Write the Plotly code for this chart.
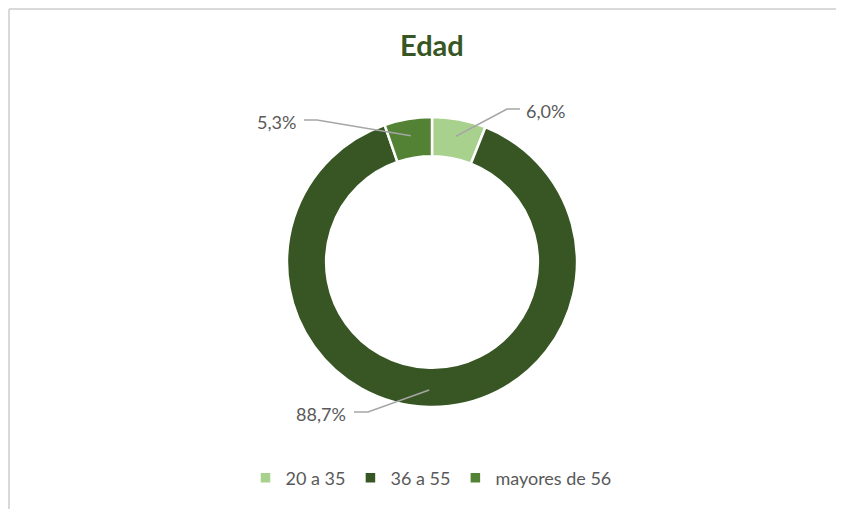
import math

import plotly.graph_objects as go

W, H = 844, 509
OFF = 8  # page body margin shifts the figure by this many pixels

# data
categories = ["20 a 35", "36 a 55", "mayores de 56"]
values = [6.0, 88.7, 5.3]
value_labels = ["6,0%", "88,7%", "5,3%"]
colors = ["#A9D18E", "#375623", "#548235"]

# donut geometry (screen pixels)
CX, CY, R = 432, 262, 145
HOLE = 0.73

# label placement per slice: (bend x, bend y, line end x, side)
label_layout = [
    (507, 109, 520, "left"),
    (368, 412, 354, "right"),
    (317, 120, 304, "right"),
]


def px(x):
    return (x - OFF) / W


def py(y):
    return 1 - (y - OFF) / H


fig = go.Figure(
    go.Pie(
        labels=categories,
        values=values,
        hole=HOLE,
        sort=False,
        direction="clockwise",
        rotation=0,
        textinfo="none",
        hoverinfo="label+percent",
        marker=dict(colors=colors, line=dict(color="white", width=2.5)),
        domain=dict(x=[px(CX - R), px(CX + R)], y=[py(CY + R), py(CY - R)]),
    )
)

# leader lines + value labels, start point from each slice's mid-angle
total = sum(values)
shapes = []
annotations = []
cum = 0.0
r0 = 128
for v, txt, (bx, by, ex, side) in zip(values, value_labels, label_layout):
    theta = 2 * math.pi * (cum + v / 2) / total
    cum += v
    sx = CX + r0 * math.sin(theta)
    sy = CY - r0 * math.cos(theta)
    path = f"M{px(sx)},{py(sy)} L{px(bx)},{py(by)} L{px(ex)},{py(by)}"
    shapes.append(dict(type="path", path=path, xref="paper", yref="paper",
                       line=dict(color="#A6A6A6", width=1.5)))
    if side == "left":
        annotations.append(dict(x=px(ex + 4), y=py(by + 2), text=txt, showarrow=False,
                                xanchor="left", yanchor="middle", xref="paper", yref="paper",
                                font=dict(size=18, color="#595959", family="Lato")))
    else:
        annotations.append(dict(x=px(ex - 6), y=py(by + 2), text=txt, showarrow=False,
                                xanchor="right", yanchor="middle", xref="paper", yref="paper",
                                font=dict(size=18, color="#595959", family="Lato")))

annotations.append(dict(x=px(432), y=py(44), text="<b>Edad</b>", showarrow=False,
                        xanchor="center", yanchor="middle", xref="paper", yref="paper",
                        font=dict(size=29, color="#375623", family="Lato")))

# chart border
shapes.append(dict(type="line", xref="paper", yref="paper", x0=px(9), x1=1.05, y0=py(9), y1=py(9),
                   line=dict(color="#D9D9D9", width=2)))
shapes.append(dict(type="line", xref="paper", yref="paper", x0=px(9), x1=px(9), y0=py(9), y1=-0.05,
                   line=dict(color="#D9D9D9", width=2)))

fig.update_layout(
    width=W,
    height=H,
    margin=dict(l=0, r=0, t=0, b=0),
    paper_bgcolor="white",
    plot_bgcolor="white",
    font=dict(family="Lato", color="#595959"),
    showlegend=True,
    legend=dict(orientation="h", x=px(431), xanchor="center", y=py(478), yanchor="middle",
                font=dict(size=18, color="#595959", family="Lato"), itemwidth=30),
    shapes=shapes,
    annotations=annotations,
)

fig.write_html("out.html")
